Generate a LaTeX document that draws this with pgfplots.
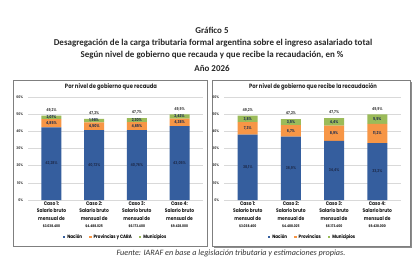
\documentclass[border=0pt]{standalone}
\usepackage{fontspec}
\setmainfont{Carlito}
\newfontfamily\chartfont{Poppins}[FakeStretch=0.85, BoldFeatures={FakeStretch=0.85}]
\usepackage{pgfplots}
\usepackage{pgfplotstable}
\pgfplotsset{compat=1.18}

\definecolor{nacion}{HTML}{355E9E}
\definecolor{prov}{HTML}{F79646}
\definecolor{muni}{HTML}{9BBB59}
\definecolor{gridgray}{HTML}{D9D9D9}
\definecolor{labeldark}{HTML}{1F2D4F}
\definecolor{boxgray}{HTML}{7F7F7F}

% Carga tributaria por nivel de gobierno que recauda
\pgfplotstableread{
x nac prov mun tot
0 42.28 4.85 2.07 49.2
1 40.72 4.50 1.98 47.2
2 40.76 4.65 2.30 47.7
3 43.05 4.38 2.43 49.9
}\recauda
% Carga tributaria por nivel de gobierno que recibe la recaudacion
\pgfplotstableread{
x nac prov mun tot
0 38.1 7.3 3.8 49.2
1 36.9 6.7 3.5 47.2
2 34.4 8.9 4.4 47.7
3 33.2 11.2 5.5 49.9
}\recibe

\newcommand{\casos}{%
  {Caso 1:\\Salario bruto\\mensual de\\{\fontsize{3.6}{4}\selectfont\$3.038.400}},
  {Caso 2:\\Salario bruto\\mensual de\\{\fontsize{3.6}{4}\selectfont\$4.488.025}},
  {Caso 3:\\Salario bruto\\mensual de\\{\fontsize{3.6}{4}\selectfont\$6.173.400}},
  {Caso 4:\\Salario bruto\\mensual de\\{\fontsize{3.6}{4}\selectfont\$9.428.000}}}

\pgfplotsset{
  panel/.style={
    scale only axis, width=#1, height=103bp,
    anchor=south west,
    xmin=-0.55, xmax=3.55, ymin=0, ymax=60,
    font=\chartfont\bfseries\fontsize{4}{5}\selectfont,
  },
  bars/.style={
    panel=#1,
    ybar stacked, bar width=20bp,
    axis x line=bottom, axis y line=left,
    axis line style={draw=none},
    ytick={0,10,...,60},
    yticklabels={0\%,10\%,20\%,30\%,40\%,50\%,60\%},
    ymajorgrids, grid style={gridgray, line width=0.6pt},
    major tick length=0pt,
    yticklabel style={font=\chartfont\bfseries\fontsize{3.6}{4}\selectfont, text=black!75, xshift=-1.5bp},
    xtick={0,1,2,3},
    xticklabel style={align=center, font=\chartfont\bfseries\fontsize{5.2}{7.5}\selectfont, text=black!90, yshift=2bp},
    legend style={at={(0.5,-0.36)}, anchor=center, draw=none, fill=none,
      legend columns=3, font=\chartfont\bfseries\fontsize{4.8}{5}\selectfont,
      /tikz/every even column/.append style={column sep=5bp},
      legend cell align=left, inner sep=0pt},
    legend image code/.code={\fill[##1,draw=none] (0bp,-1.3bp) rectangle (2.6bp,1.3bp);},
  },
  seglabel/.style={
    only marks, mark=none, point meta=explicit,
    nodes near coords={\pgfmathprintnumber[assume math mode=true,use comma,fixed,fixed zerofill,precision=#1]{\pgfplotspointmeta}\%},
    every node near coord/.style={anchor=center, text=labeldark,
      font=\chartfont\bfseries\fontsize{4}{4}\selectfont, inner sep=0pt},
  },
  totlabel/.style={
    only marks, mark=none, point meta=explicit,
    nodes near coords={\pgfmathprintnumber[assume math mode=true,use comma,fixed,fixed zerofill,precision=1]{\pgfplotspointmeta}\%},
    every node near coord/.style={anchor=south, yshift=3.5bp, text=black!75,
      font=\chartfont\bfseries\fontsize{4}{4}\selectfont, inner sep=0pt},
  },
}

\begin{document}
\begin{tikzpicture}
\path[use as bounding box] (0,0) rectangle (420bp,-262bp);

% Titulos
\begin{scope}[every node/.style={font=\bfseries\fontsize{9}{11}\selectfont, text=black!85}]
\node at (212bp,-30.5bp) {Gráfico 5};
\node at (213bp,-43bp) {Desagregación de la carga tributaria formal argentina sobre el ingreso asalariado total};
\node at (212bp,-55.5bp) {Según nivel de gobierno que recauda y que recibe la recaudación, en \%};
\node at (212bp,-68bp) {Año 2026};
\end{scope}

% Marcos de los paneles
\fill[black!45] (214bp,-248bp) rectangle (412bp,-82bp);
\draw[boxgray, line width=0.6pt, fill=white] (13bp,-80bp) rectangle (207bp,-246bp);
\draw[boxgray, line width=0.6pt, fill=white] (212bp,-80bp) rectangle (410bp,-246bp);

\node[font=\chartfont\bfseries\fontsize{6.2}{7}\selectfont, text=black!85] at (111bp,-87bp) {Por nivel de gobierno que recauda};
\node[font=\chartfont\bfseries\fontsize{6.2}{7}\selectfont, text=black!85] at (313bp,-86.5bp) {Por nivel de gobierno que recibe la recaudación};

% Panel izquierdo
\begin{axis}[bars=175bp, at={(28bp,-200bp)}, xticklabels/.expand once=\casos]
\addplot[fill=nacion, draw=none] table[x=x, y=nac] {\recauda};
\addplot[fill=prov, draw=none] table[x=x, y=prov] {\recauda};
\addplot[fill=muni, draw=none] table[x=x, y=mun] {\recauda};
\legend{Nación, Provincias y CABA, Municipios}
\end{axis}
\begin{axis}[panel=175bp, at={(28bp,-200bp)}, hide axis]
\addplot[seglabel=2] table[x=x, y expr=\thisrow{nac}/2, meta=nac] {\recauda};
\addplot[seglabel=2] table[x=x, y expr=\thisrow{nac}+\thisrow{prov}/2, meta=prov] {\recauda};
\addplot[seglabel=2] table[x=x, y expr=\thisrow{nac}+\thisrow{prov}+\thisrow{mun}/2, meta=mun] {\recauda};
\addplot[totlabel] table[x=x, y=tot, meta=tot] {\recauda};
\end{axis}

% Panel derecho
\begin{axis}[bars=177bp, at={(224bp,-200bp)}, xticklabels/.expand once=\casos]
\addplot[fill=nacion, draw=none] table[x=x, y=nac] {\recibe};
\addplot[fill=prov, draw=none] table[x=x, y=prov] {\recibe};
\addplot[fill=muni, draw=none] table[x=x, y=mun] {\recibe};
\legend{Nación, Provincias, Municipios}
\end{axis}
\begin{axis}[panel=177bp, at={(224bp,-200bp)}, hide axis]
\addplot[seglabel=1] table[x=x, y expr=\thisrow{nac}/2, meta=nac] {\recibe};
\addplot[seglabel=1] table[x=x, y expr=\thisrow{nac}+\thisrow{prov}/2, meta=prov] {\recibe};
\addplot[seglabel=1] table[x=x, y expr=\thisrow{nac}+\thisrow{prov}+\thisrow{mun}/2, meta=mun] {\recibe};
\addplot[totlabel] table[x=x, y=tot, meta=tot] {\recibe};
\end{axis}

% Fuente
\node[font=\itshape\fontsize{8.2}{10}\selectfont, text=black!80] at (231bp,-253.5bp)
  {Fuente: IARAF en base a legislación tributaria y estimaciones propias.};
\end{tikzpicture}
\end{document}
